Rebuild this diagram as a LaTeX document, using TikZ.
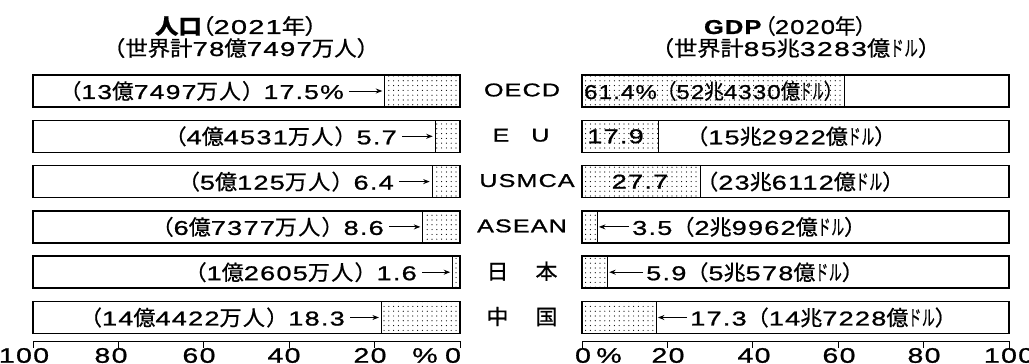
\documentclass[tikz,border=0pt]{standalone}
\usepackage{graphicx}
\usepackage{fontspec}
\setmainfont{Liberation Sans}[FakeStretch=1.36, LetterSpace=6, FakeBold=1]
\newfontfamily\jpw{Noto Sans CJK JP}[Scale=1.05, FakeStretch=1.05, LetterSpace=6, FakeBold=0.8]
\newfontfamily\jpt{Noto Sans CJK JP}[Scale=1.05, FakeStretch=1.05, FakeBold=0.8]
\newfontfamily\jpp{Noto Sans CJK JP}[Scale=1.05, FakeStretch=1.05, FakeBold=0.8, RawFeature=+palt]
\newcommand\W[1]{{\jpw #1}}
\newcommand\T[1]{{\jpt #1}}
\newcommand\PP[1]{{\jpp #1}}
\newcommand\Dr{\scalebox{0.58}[1]{\jpw ドル}}
\newcommand\fitw[2]{\resizebox{#1}{\height}{#2}}
\usetikzlibrary{patterns,arrows.meta}
\pgfdeclarepatternformonly{sdots}{\pgfqpoint{-1pt}{-1pt}}{\pgfqpoint{1pt}{1pt}}{\pgfqpoint{4.8pt}{4.8pt}}{\pgfpathcircle{\pgfqpoint{0pt}{0pt}}{0.6pt}\pgfusepath{fill}}
\begin{document}
\begin{tikzpicture}[x=1pt, y=-1pt, font=\fontsize{20}{21}\selectfont,
  bar/.style={draw, line width=1.6pt, minimum height=32pt, inner sep=0pt},
  shade/.style={draw, line width=1pt, pattern=sdots, minimum height=32pt, inner sep=0pt},
  txt/.style={inner sep=0pt},
  cat/.style={inner sep=0pt, font=\fontsize{18.5}{20}\selectfont},
  arr/.style={-{Stealth[length=6.5pt,width=5pt]}, line width=1pt},
  axisln/.style={line width=0.7pt},
  axl/.style={inner sep=0pt, font=\fontsize{21}{21}\selectfont}]
\useasboundingbox (0,0) rectangle (1029,364);
% titles
\node[txt] (TL1) at (236,26) {\fitw{162pt}{{\jpp\bfseries 人口}\PP{（}2021\PP{年）}}};
\node[txt] (TL2) at (241,48) {\fitw{276pt}{\T{（世界計}78\T{億}7497\T{万人）}}};
\node[txt] (TR1) at (785,26) {\fitw{162pt}{{\bfseries GDP}\,\PP{（}2020\PP{年）}}};
\node[txt] (TR2) at (796,48) {\fitw{290pt}{\T{（世界計}85\T{兆}3283\T{億}\Dr\T{）}}};
% left fills
\node[shade, minimum width=74.7pt, anchor=east] (LF1) at (460,91) {};
\node[shade, minimum width=24.3pt, anchor=east] (LF2) at (460,136.3) {};
\node[shade, minimum width=27.3pt, anchor=east] (LF3) at (460,181.6) {};
\node[shade, minimum width=36.7pt, anchor=east] (LF4) at (460,226.9) {};
\node[shade, minimum width=6.8pt, anchor=east] (LF5) at (460,272.2) {};
\node[shade, minimum width=78.1pt, anchor=east] (LF6) at (460,317.5) {};
% right fills
\node[shade, minimum width=262.2pt, anchor=west] (RF1) at (582,91) {};
\node[shade, minimum width=76.4pt, anchor=west] (RF2) at (582,136.3) {};
\node[shade, minimum width=118.3pt, anchor=west] (RF3) at (582,181.6) {};
\node[shade, minimum width=14.9pt, anchor=west] (RF4) at (582,226.9) {};
\node[shade, minimum width=25.2pt, anchor=west] (RF5) at (582,272.2) {};
\node[shade, minimum width=73.9pt, anchor=west] (RF6) at (582,317.5) {};
% bar outlines
\foreach \i/\y in {1/91,2/136.3,3/181.6,4/226.9,5/272.2,6/317.5}{
  \node[bar, minimum width=427pt] (LB\i) at (246.5,\y) {};
  \node[bar, minimum width=427pt] (RB\i) at (795.5,\y) {};
}
% left texts
\node[txt, anchor=east] (LT1) at (344,91) {\fitw{284pt}{\W{（}13\W{億}7497\W{万人）}17.5\%}};
\node[txt, anchor=east] (LT2) at (397,136.3) {\W{（}4\W{億}4531\W{万人）}5.7};
\node[txt, anchor=east] (LT3) at (394,181.6) {\W{（}5\W{億}125\W{万人）}6.4};
\node[txt, anchor=east] (LT4) at (384,226.9) {\W{（}6\W{億}7377\W{万人）}8.6};
\node[txt, anchor=east] (LT5) at (417,272.2) {\W{（}1\W{億}2605\W{万人）}1.6};
\node[txt, anchor=east] (LT6) at (345,317.5) {\W{（}14\W{億}4422\W{万人）}18.3};
\foreach \i in {1,...,6}{
  \draw[arr] ([xshift=5pt]LT\i.east) -- ([xshift=-2pt]LF\i.west);
}
% category labels
\node[cat] (C1) at (522,90) {OECD};
\node[cat] (C2) at (521,135.3) {E\hspace{22pt}U};
\node[cat] (C3) at (527,180.6) {USMCA};
\node[cat] (C4) at (522,225.9) {ASEAN};
\node[txt] (C5) at (522,271.2) {\W{日}\hspace{27pt}\W{本}};
\node[txt] (C6) at (522,316.5) {\W{中}\hspace{27pt}\W{国}};
% right texts
\node[txt, anchor=west] (RT1) at (584,91) {\fitw{259pt}{61.4\%\W{（}52\W{兆}4330\W{億}\Dr\W{）}}};
\node[txt, anchor=west] (RV2) at (587,136.3) {17.9};
\node[txt, anchor=west] (RT2) at (686,136.3) {\W{（}15\W{兆}2922\W{億}\Dr\W{）}};
\node[txt] (RV3) at (640,181.6) {27.7};
\node[txt, anchor=west] (RT3) at (696,181.6) {\W{（}23\W{兆}6112\W{億}\Dr\W{）}};
\node[txt, anchor=west] (RT4) at (632,226.9) {3.5\W{（}2\W{兆}9962\W{億}\Dr\W{）}};
\node[txt, anchor=west] (RT5) at (646,272.2) {5.9\W{（}5\W{兆}578\W{億}\Dr\W{）}};
\node[txt, anchor=west] (RT6) at (690,317.5) {17.3\W{（}14\W{兆}7228\W{億}\Dr\W{）}};
\foreach \i in {4,5,6}{
  \draw[arr] ([xshift=-3pt]RT\i.west) -- ([xshift=1pt]RF\i.east);
}
% axes
\draw[axisln] (33,341) -- (460,341);
\draw[axisln] (582,341) -- (1009,341);
\foreach \k in {0,...,5}{
  \draw[axisln] (33+85.4*\k,341) -- (33+85.4*\k,348);
  \draw[axisln] (582+85.4*\k,341) -- (582+85.4*\k,348);
}
\node[axl] (AL1) at (24,355.5) {100};
\node[axl] (AL2) at (111,355.5) {80};
\node[axl] (AL3) at (199,355.5) {60};
\node[axl] (AL4) at (284,355.5) {40};
\node[axl] (AL5) at (370,355.5) {20};
\node[axl] (AL6) at (425,355.5) {\%};
\node[axl] (AL7) at (453,355.5) {0};
\node[axl] (AR1) at (583,355.5) {0};
\node[axl] (AR2) at (609,355.5) {\%};
\node[axl] (AR3) at (668,355.5) {20};
\node[axl] (AR4) at (754,355.5) {40};
\node[axl] (AR5) at (839,355.5) {60};
\node[axl] (AR6) at (924,355.5) {80};
\node[axl] (AR7) at (1009,355.5) {100};
\end{tikzpicture}
\end{document}
